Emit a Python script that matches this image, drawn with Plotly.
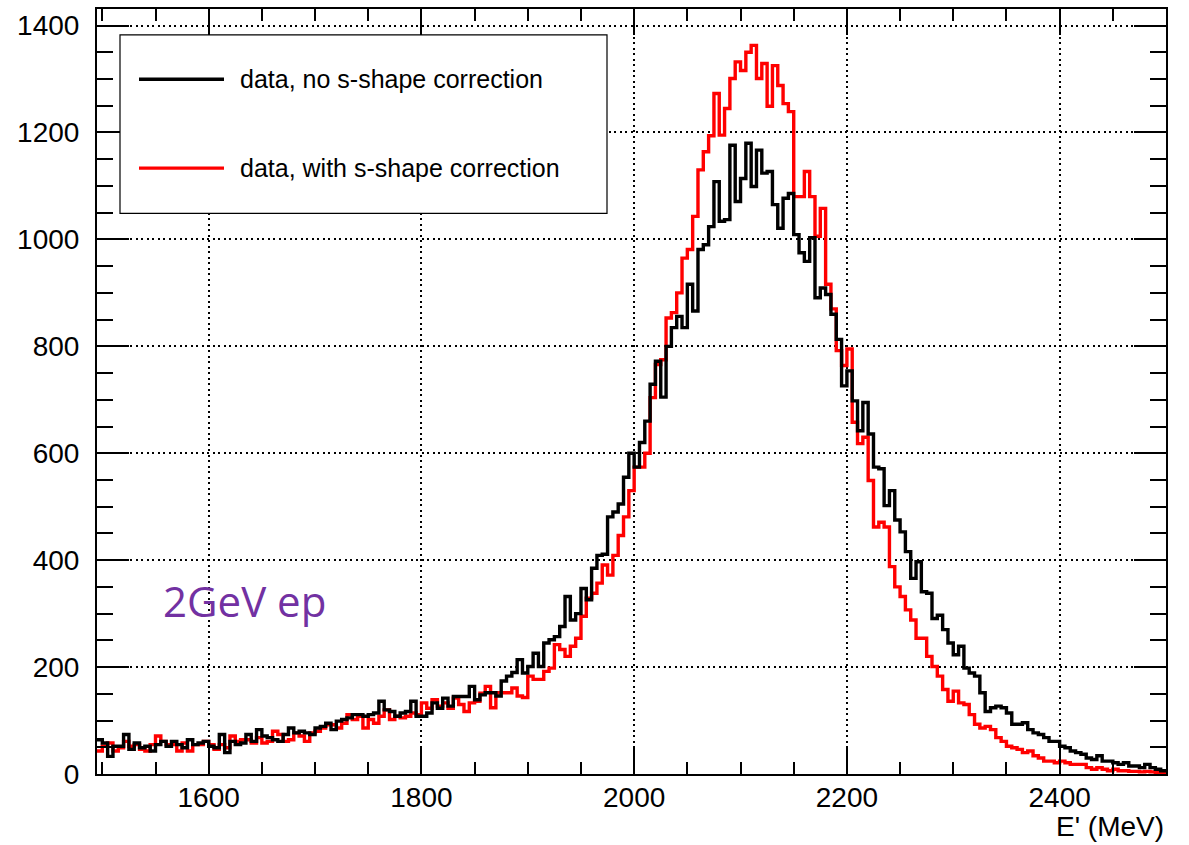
import plotly.graph_objects as go

# ---------------- data ----------------
bin_low_edge = 1495      # MeV, first bin low edge
bin_width = 5            # MeV

# data, no s-shape correction (counts per 5 MeV bin, 1495 ... 2500 MeV)
counts_no_corr = [
    64, 58, 33, 52, 52, 74, 46, 58, 49, 52,
    43, 55, 61, 52, 61, 55, 49, 64, 55, 58,
    61, 52, 49, 74, 40, 61, 55, 58, 74, 61,
    83, 71, 68, 64, 61, 74, 86, 77, 80, 77,
    74, 86, 89, 95, 83, 99, 102, 105, 111, 111,
    108, 111, 114, 136, 120, 117, 108, 114, 117, 136,
    108, 108, 114, 133, 123, 142, 127, 145, 145, 145,
    164, 139, 148, 152, 152, 146, 174, 183, 190, 214,
    189, 201, 226, 201, 245, 251, 257, 276, 332, 288,
    300, 347, 326, 385, 409, 411, 481, 490, 505, 555,
    600, 574, 620, 660, 729, 772, 705, 800, 835, 856,
    835, 916, 866, 981, 990, 1024, 1108, 1034, 1037, 1176,
    1071, 1114, 1180, 1099, 1167, 1124, 1127, 1065, 1021, 1077,
    1086, 1009, 975, 959, 1003, 891, 909, 897, 860, 813,
    726, 754, 698, 642, 695, 636, 574, 571, 502, 530,
    475, 453, 416, 366, 397, 341, 338, 291, 297, 270,
    245, 223, 239, 198, 189, 183, 152, 117, 124, 127,
    124, 114, 93, 93, 96, 83, 77, 74, 68, 61,
    61, 52, 49, 43, 40, 37, 30, 27, 34, 24,
    24, 21, 18, 21, 15, 15, 12, 18, 12, 9,
    6,
]

# data, with s-shape correction
counts_with_corr = [
    43, 52, 58, 43, 49, 61, 52, 55, 46, 43,
    55, 71, 61, 55, 55, 43, 58, 43, 55, 55,
    61, 55, 46, 55, 49, 71, 61, 64, 64, 58,
    68, 58, 61, 80, 74, 61, 64, 77, 71, 61,
    77, 80, 86, 92, 92, 86, 95, 111, 102, 108,
    86, 102, 95, 108, 120, 102, 108, 105, 108, 114,
    111, 133, 123, 139, 127, 133, 123, 142, 130, 117,
    133, 136, 151, 164, 124, 152, 152, 152, 161, 146,
    143, 183, 177, 177, 192, 198, 242, 233, 220, 239,
    254, 295, 329, 338, 357, 391, 372, 409, 446, 481,
    530, 574, 574, 600, 704, 766, 775, 853, 863, 900,
    965, 981, 1043, 1130, 1164, 1194, 1273, 1195, 1245, 1301,
    1332, 1316, 1350, 1363, 1301, 1329, 1249, 1325, 1288, 1254,
    1239, 1080, 1080, 1127, 1080, 1006, 1058, 916, 870, 792,
    764, 795, 658, 618, 630, 549, 462, 471, 462, 388,
    350, 332, 307, 288, 254, 254, 220, 201, 183, 158,
    136, 155, 133, 130, 111, 93, 86, 89, 83, 68,
    61, 52, 49, 46, 40, 43, 34, 30, 24, 24,
    21, 24, 21, 18, 18, 18, 12, 9, 12, 9,
    6, 9, 6, 6, 5, 5, 4, 5, 4, 3,
    3,
]

x_range = [1495, 2500]
y_range = [0, 1431]
x_tickvals = [1600, 1800, 2000, 2200, 2400]
y_tickvals = [0, 200, 400, 600, 800, 1000, 1200, 1400]
legend_labels = ["data, no s-shape correction", "data, with s-shape correction"]
x_title = "E' (MeV)"
tag_text = "2GeV ep"


def step_xy(counts):
    edges = [bin_low_edge + bin_width * i for i in range(len(counts) + 1)]
    return edges, list(counts) + [counts[-1]]


fig = go.Figure()

xr, yr = step_xy(counts_with_corr)
fig.add_trace(go.Scatter(x=xr, y=yr, mode="lines", line_shape="hv",
                         line=dict(color="#ff0000", width=3.4),
                         name=legend_labels[1], showlegend=False))
xb, yb = step_xy(counts_no_corr)
fig.add_trace(go.Scatter(x=xb, y=yb, mode="lines", line_shape="hv",
                         line=dict(color="#000000", width=3.4),
                         name=legend_labels[0], showlegend=False))

axis_font = dict(family="Liberation Sans, Arial, sans-serif", size=28, color="black")

fig.update_xaxes(
    range=x_range, tickvals=x_tickvals, ticktext=[str(v) for v in x_tickvals],
    ticks="inside", ticklen=26, tickwidth=2, tickcolor="black",
    minor=dict(dtick=50, tick0=1500, ticks="inside", ticklen=12, tickwidth=2,
               tickcolor="black", showgrid=False),
    showline=True, linewidth=2, linecolor="black", mirror="allticks",
    showgrid=True, gridcolor="black", gridwidth=2, griddash="2px,3.5px",
    zeroline=False, tickfont=axis_font, ticklabelstandoff=-3,
)
fig.update_yaxes(
    range=y_range, tickvals=y_tickvals, ticktext=[str(v) for v in y_tickvals],
    ticks="inside", ticklen=32, tickwidth=2, tickcolor="black",
    minor=dict(dtick=50, tick0=0, ticks="inside", ticklen=16, tickwidth=2,
               tickcolor="black", showgrid=False),
    showline=True, linewidth=2, linecolor="black", mirror="allticks",
    showgrid=True, gridcolor="black", gridwidth=2, griddash="2px,3.5px",
    zeroline=False, tickfont=axis_font, ticklabelstandoff=10,
)

# ---- legend box drawn in ROOT style ----
L, R, T, B = 97, 1166, 7, 774
W, H = R - L, B - T


def px(x):
    return (x - L) / W


def py(y):
    return (B - y) / H


fig.add_shape(type="rect", xref="paper", yref="paper",
              x0=px(120), x1=px(607), y0=py(212), y1=py(33),
              line=dict(color="black", width=1.2), fillcolor="white", layer="above")
for yy, col, lab in [(77.5, "black", legend_labels[0]), (166.5, "#ff0000", legend_labels[1])]:
    fig.add_shape(type="line", xref="paper", yref="paper",
                  x0=px(139), x1=px(224), y0=py(yy), y1=py(yy),
                  line=dict(color=col, width=3.4), layer="above")
    fig.add_annotation(xref="paper", yref="paper", x=px(238), y=py(yy),
                       xanchor="left", yanchor="middle", showarrow=False, text=lab,
                       font=dict(family="Liberation Sans, Arial, sans-serif", size=25,
                                 color="black"))

fig.add_annotation(xref="paper", yref="paper", x=px(244.5), y=py(600),
                   xanchor="center", yanchor="middle", showarrow=False, text=tag_text,
                   font=dict(family="Open Sans, sans-serif", size=42, color="#7231a2"))

fig.add_annotation(xref="paper", yref="paper", x=px(1166), y=py(827),
                   xanchor="right", yanchor="middle", showarrow=False, text=x_title,
                   font=dict(family="Liberation Sans, Arial, sans-serif", size=28,
                             color="black"))

fig.update_layout(
    width=1189, height=845,
    margin=dict(l=L, r=1189 - R, t=T, b=845 - B),
    paper_bgcolor="white", plot_bgcolor="white",
    showlegend=False,
)

fig.write_html("out.html")
